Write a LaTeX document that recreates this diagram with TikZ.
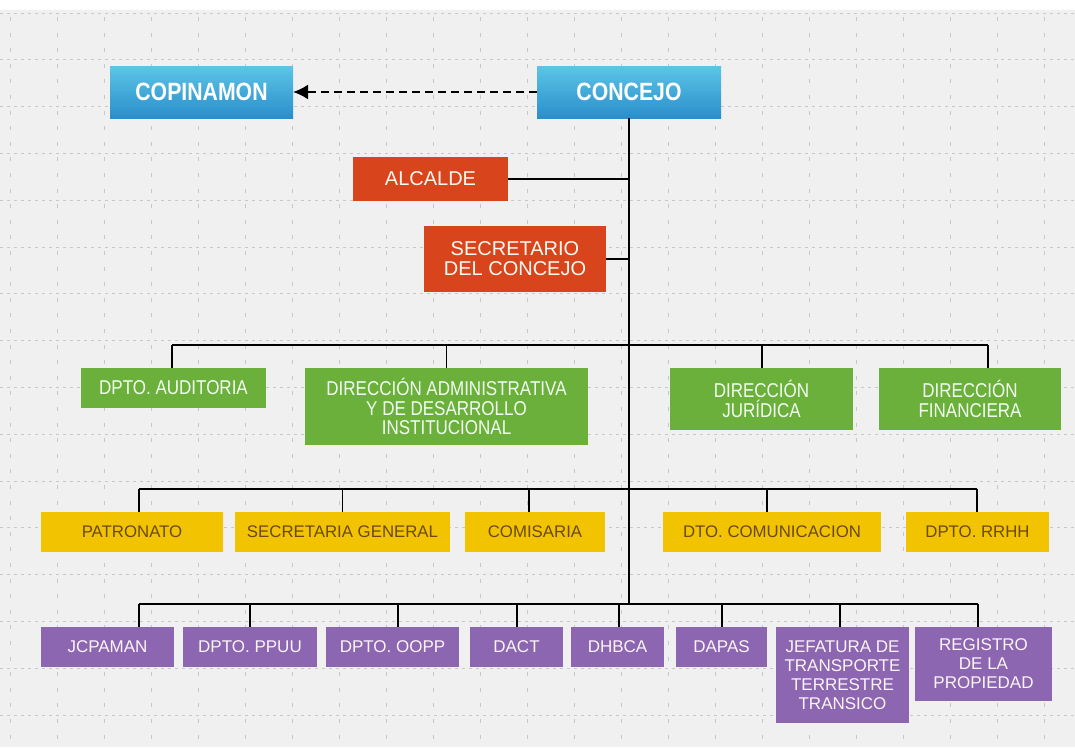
\documentclass[tikz,border=0pt]{standalone}
\usepackage{fontspec}
\setmainfont{Liberation Sans}
\newfontfamily\condf{Liberation Sans}[FakeStretch=0.85]
\newfontfamily\plainf{Liberation Sans}
\usetikzlibrary{arrows.meta}
\definecolor{bgc}{HTML}{F0F0F0}
\definecolor{gridc}{HTML}{C8C8C8}
\definecolor{blueTop}{HTML}{5CC5E7}
\definecolor{blueBot}{HTML}{2A8ECB}
\definecolor{orangeC}{HTML}{D8441B}
\definecolor{greenC}{HTML}{6BB03A}
\definecolor{yellowC}{HTML}{F2C300}
\definecolor{purpleC}{HTML}{8C66B0}
\definecolor{yellowTxt}{HTML}{6A4A12}
\tikzset{
  basebox/.style={inner sep=0pt, outer sep=0pt, align=center, draw=none},
  bluebox/.style={basebox, top color=blueTop, bottom color=blueBot, text=white,
    font=\condf\bfseries\fontsize{25}{26}\selectfont},
  orangebox/.style={basebox, fill=orangeC, text={white!95!orange},
    font=\plainf\fontsize{20}{20}\selectfont},
  greenbox/.style={basebox, fill=greenC, text={white!95!green},
    font=\condf\fontsize{20}{19.5}\selectfont},
  yellowbox/.style={basebox, fill=yellowC, text=yellowTxt,
    font=\plainf\fontsize{16.8}{18}\selectfont},
  purplebox/.style={basebox, fill=purpleC, text={white!96!purple},
    font=\plainf\fontsize{17}{19}\selectfont},
  link/.style={draw=black, line width=2pt},
  thinlink/.style={draw=black, line width=1pt},
  gridh/.style={draw=gridc, line width=0.9pt, dash pattern=on 3pt off 4pt},
  gridv/.style={draw=gridc, line width=0.9pt, dash pattern=on 4pt off 11.6pt, dash phase=-4pt},
}
\begin{document}
\begin{tikzpicture}[x=1pt,y=-1pt]
\useasboundingbox (0,0) rectangle (1075,747);
\fill[bgc] (0,0) rectangle (1075,747);
\fill[white] (0,0) rectangle (1075,10);
% grid
\foreach \k in {0,...,15}{
  \draw[gridh] (0,{13+46.8*\k}) -- (1075,{13+46.8*\k});
}
\foreach \k in {0,...,22}{
  \draw[gridv] ({10+47*\k},13) -- ({10+47*\k},747);
}
% boxes
\node[bluebox, minimum width=183, minimum height=52] (cop) at (201.5,92) {COPINAMON};
\node[bluebox, minimum width=184, minimum height=52] (con) at (629,92) {CONCEJO};
\node[orangebox, minimum width=155, minimum height=44] (alc) at (430.5,179) {ALCALDE};
\node[orangebox, minimum width=182, minimum height=66] (sec) at (515,259) {SECRETARIO\\DEL CONCEJO};
\node[greenbox, minimum width=185, minimum height=40] (aud) at (173.5,388) {DPTO. AUDITORIA};
\node[greenbox, minimum width=283, minimum height=77] (adm) at (446.5,406.5) {DIRECCIÓN ADMINISTRATIVA\\Y DE DESARROLLO\\INSTITUCIONAL};
\node[greenbox, minimum width=183, minimum height=62] (jur) at (761.5,399) {DIRECCIÓN\\JURÍDICA};
\node[greenbox, minimum width=182, minimum height=62] (fin) at (970,399) {DIRECCIÓN\\FINANCIERA};
\node[yellowbox, minimum width=182, minimum height=40] (pat) at (132,532) {PATRONATO};
\node[yellowbox, minimum width=215, minimum height=40] (sgn) at (342.5,532) {SECRETARIA GENERAL};
\node[yellowbox, minimum width=140, minimum height=40] (com) at (535,532) {COMISARIA};
\node[yellowbox, minimum width=218, minimum height=40] (dtc) at (772,532) {DTO. COMUNICACION};
\node[yellowbox, minimum width=143, minimum height=40] (rrh) at (977.5,532) {DPTO. RRHH};
\node[purplebox, minimum width=133, minimum height=40] (jcp) at (107.5,647) {JCPAMAN};
\node[purplebox, minimum width=134, minimum height=40] (ppu) at (250,647) {DPTO. PPUU};
\node[purplebox, minimum width=133, minimum height=40] (oop) at (392.5,647) {DPTO. OOPP};
\node[purplebox, minimum width=93, minimum height=40] (dac) at (516.5,647) {DACT};
\node[purplebox, minimum width=93, minimum height=40] (dhb) at (617.5,647) {DHBCA};
\node[purplebox, minimum width=91, minimum height=40] (dap) at (721.5,647) {DAPAS};
\node[purplebox, minimum width=133, minimum height=96, anchor=north] (jef) at (842.5,627) {JEFATURA DE\\TRANSPORTE\\TERRESTRE\\TRANSICO};
\node[purplebox, minimum width=137, minimum height=74, anchor=north] (reg) at (983.5,627) {REGISTRO\\DE LA\\PROPIEDAD};
% dashed arrow
\draw[line width=2.2pt, dash pattern=on 8pt off 5pt, -{Latex[length=15pt,width=15pt]}] (con.west) -- (cop.east);
% bus coordinates
\coordinate (gT) at (629,345);
\coordinate (gL) at (172,345);
\coordinate (gR) at (988,345);
\coordinate (yT) at (629,489);
\coordinate (yL) at (139,489);
\coordinate (yR) at (977,489);
\coordinate (pT) at (629,604);
\coordinate (pL) at (139,604);
\coordinate (pR) at (978,604);
% trunk
\draw[link] (con.south) -- (pT);
\draw[link] (alc.east) -- (alc.east -| con.south);
\draw[link] (sec.east) -- (sec.east -| con.south);
% green level
\draw[link] (gL) -- (gR);
\draw[link] (gL) -- (gL |- aud.north);
\draw[thinlink] (gT -| adm.north) -- (adm.north);
\draw[link] (gT -| jur.north) -- (jur.north);
\draw[link] (gR) -- (gR |- fin.north);
% yellow level
\draw[link] (yL) -- (yR);
\draw[link] (yL) -- (yL |- pat.north);
\draw[thinlink] (yT -| sgn.north) -- (sgn.north);
\draw[link] ([xshift=-6pt]yT -| com.north) -- ([xshift=-6pt]com.north);
\draw[link] ([xshift=-5pt]yT -| dtc.north) -- ([xshift=-5pt]dtc.north);
\draw[link] (yR) -- (yR |- rrh.north);
% purple level
\draw[link] (pL) -- (pR);
\draw[link] (pL) -- (pL |- jcp.north);
\draw[link] (pT -| ppu.north) -- (ppu.north);
\draw[link] ([xshift=5pt]pT -| oop.north) -- ([xshift=5pt]oop.north);
\draw[link] (pT -| dac.north) -- (dac.north);
\draw[link] ([xshift=1.5pt]pT -| dhb.north) -- ([xshift=1.5pt]dhb.north);
\draw[link] (pT -| dap.north) -- (dap.north);
\draw[link] ([xshift=-2.5pt]pT -| jef.north) -- ([xshift=-2.5pt]jef.north);
\draw[link] (pR) -- (pR |- reg.north);
\end{tikzpicture}
\end{document}
